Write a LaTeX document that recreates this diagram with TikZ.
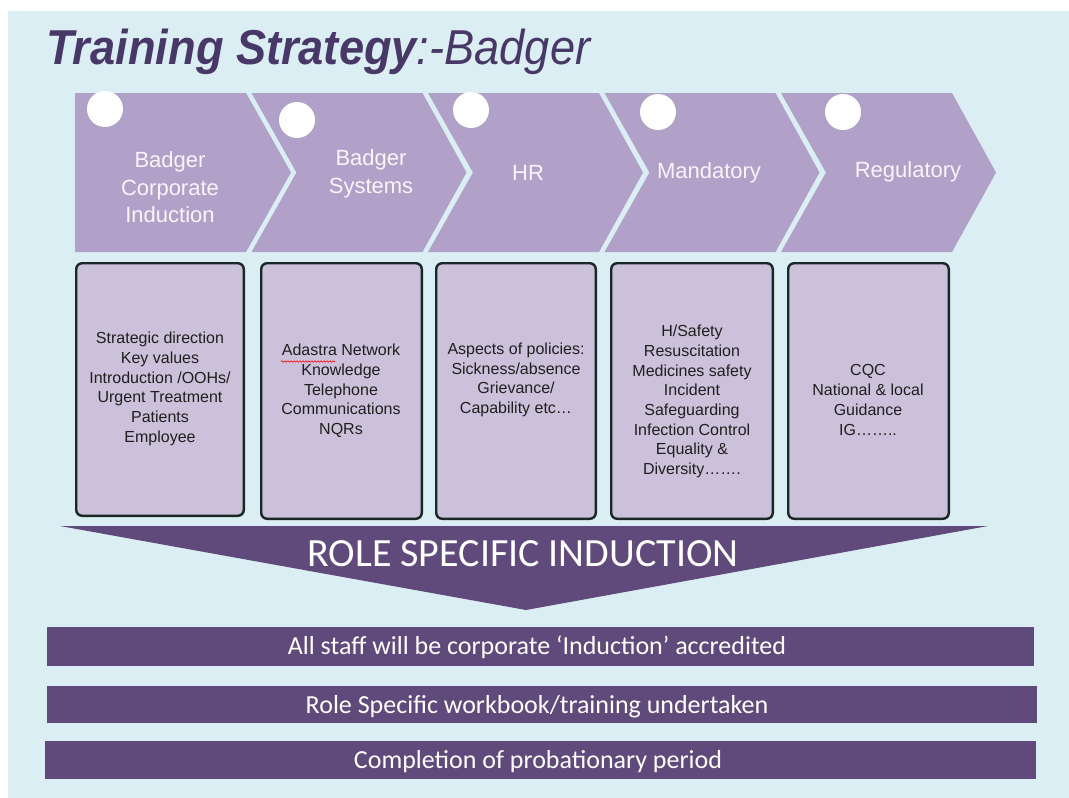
\documentclass[tikz,border=0pt]{standalone}
\usepackage{fontspec}
\setmainfont{Liberation Sans}
\newfontfamily\calib{Carlito}
\usepackage{graphicx}
\usetikzlibrary{decorations.pathmorphing}
\definecolor{bgblue}{RGB}{218,238,243}
\definecolor{chev}{RGB}{177,160,199}
\definecolor{boxfill}{RGB}{204,193,218}
\definecolor{deep}{RGB}{96,74,123}
\definecolor{titlec}{RGB}{72,56,104}
\definecolor{boxline}{RGB}{25,38,36}
\definecolor{chevtext}{RGB}{250,244,252}
\begin{document}
\begin{tikzpicture}[x=1pt,y=-1pt,
  chevshape/.style={fill=chev, draw=none},
  chevlabel/.style={text=chevtext, font=\fontsize{22}{27.5}\selectfont, align=center, inner sep=0pt},
  dot/.style={circle, fill=white, minimum size=36pt, inner sep=0pt},
  infobox/.style={draw=boxline, line width=2.4pt, rounded corners=6pt, fill=boxfill, inner sep=0pt},
  boxtext/.style={text=black!88, font=\fontsize{16}{19.7}\selectfont, align=center, inner sep=0pt},
  stepbar/.style={fill=deep, inner sep=0pt},
  bartext/.style={text=white, font=\calib\fontsize{26}{30}\selectfont, inner sep=0pt, anchor=base},
]
\useasboundingbox (0,0) rectangle (1069,798);
\fill[white] (0,0) rectangle (1069,798);
\fill[bgblue] (8,11) rectangle (1069,798);

% title
\node[anchor=base west, inner sep=0pt, text=titlec, font=\fontsize{49}{56}\selectfont] (title) at (46,64)
  {\scalebox{0.922}[1]{\itshape{\bfseries Training Strategy}:-Badger}};

% chevrons
\fill[chevshape] (75,93) -- (246,93) -- (291,172.5) -- (246,252) -- (75,252) -- cycle;
\foreach \i in {2,...,5} {
  \pgfmathsetmacro\xa{75+176.5*(\i-1)}
  \fill[chevshape] (\xa,93) -- ({\xa+171},93) -- ({\xa+215},172.5) -- ({\xa+171},252) -- (\xa,252) -- ({\xa+45},172.5) -- cycle;
}
\node[dot] (d1) at (105,109) {};
\node[dot] (d2) at (297,120) {};
\node[dot] (d3) at (471,110) {};
\node[dot] (d4) at (658,112) {};
\node[dot] (d5) at (843,112) {};

\node[chevlabel] (c1) at (170,187.5) {Badger\\Corporate\\Induction};
\node[chevlabel] (c2) at (371,174) {Badger\\Systems};
\node[chevlabel] (c3) at (528,173) {HR};
\node[chevlabel] (c4) at (709,173) {Mandatory};
\node[chevlabel] (c5) at (908,172) {Regulatory};

% boxes
\node[infobox, minimum width=167.6pt, minimum height=252.6pt] (box1) at (160,389.5) {};
\node[infobox, minimum width=160.6pt, minimum height=255.6pt] (box2) at (341.5,391) {};
\node[infobox, minimum width=159.6pt, minimum height=255.6pt] (box3) at (516,391) {};
\node[infobox, minimum width=161.6pt, minimum height=255.6pt] (box4) at (692,391) {};
\node[infobox, minimum width=160.6pt, minimum height=255.6pt] (box5) at (868.5,391) {};

\node[boxtext] (t1) at (160,389) {Strategic direction\\Key values\\Introduction /OOHs/\\Urgent Treatment\\Patients\\Employee};
\node[boxtext] (t2) at (341,391) {Adastra Network\\Knowledge\\Telephone\\Communications\\NQRs};
\node[boxtext] (t3) at (516,380) {Aspects of policies:\\Sickness/absence\\Grievance/\\Capability etc\dots};
\node[boxtext] (t4) at (692,401.5) {H/Safety\\Resuscitation\\Medicines safety\\Incident\\Safeguarding\\Infection Control\\Equality \&\\Diversity\dots\dots.};
\node[boxtext] (t5) at (868,400) {CQC\\National \& local\\Guidance\\IG\dots\dots..};
\draw[red, line width=0.6pt, decorate, decoration={snake, segment length=3pt, amplitude=0.7pt}] (281,361.5) -- (335,361.5);

% role specific induction
\fill[deep] (60,526) -- (988,526) -- (526,610) -- cycle;
\node[text=white, inner sep=0pt, font=\calib\fontsize{40}{44}\selectfont] (rsi) at (523,553.5) {ROLE SPECIFIC INDUCTION};

% bars
\node[stepbar, minimum width=987pt, minimum height=39pt] (bar1) at (540.5,646.5) {};
\node[stepbar, minimum width=990pt, minimum height=37pt] (bar2) at (542,704.5) {};
\node[stepbar, minimum width=991pt, minimum height=38pt] (bar3) at (540.5,760) {};
\node[bartext] (bt1) at (537,654) {All staff will be corporate ‘Induction’ accredited};
\node[bartext] (bt2) at (537,713) {Role Specific workbook/training undertaken};
\node[bartext] (bt3) at (538,768) {Completion of probationary period};
\end{tikzpicture}
\end{document}
